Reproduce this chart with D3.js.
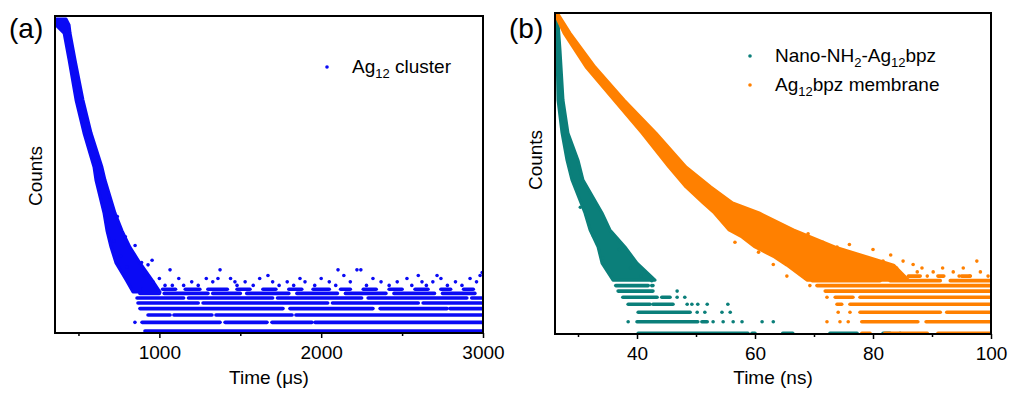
<!DOCTYPE html>
<html>
<head>
<meta charset="utf-8">
<script src="https://d3js.org/d3.v7.min.js"></script>
<style>
  body { margin: 0; background: #fff; }
  text { font-family: "Liberation Sans", Arial, sans-serif; fill: #000; }
</style>
</head>
<body>
<div id="chart"></div>
<script>
// ---------- Panel (a): Ag12 cluster, time in microseconds ----------
// dense part of the decay, read as horizontal slices: count level, first and last time
var clusterBandCounts = [3440, 3030, 2560, 1455, 630, 316, 155, 118, 59, 41, 29, 20.8, 14.6, 11.3];
var clusterBandLeft   = [361, 361, 411, 442, 485, 534, 596, 608, 658, 676, 701, 732, 794, 837];
var clusterBandRight  = [423, 442, 448, 479, 528, 578, 645, 664, 726, 769, 818, 880, 954, 1004];

// background floor: [count, from time, to time]
var clusterRows = [
  [5, 911, 3000],
  [6, 849, 849], [6, 893, 1375], [6, 1406, 1665], [6, 1696, 1943], [6, 1962, 3000],
  [7, 930, 1066], [7, 1090, 1325], [7, 1350, 1820], [7, 1844, 3000],
  [8, 880, 1764], [8, 1807, 2320], [8, 2364, 2778], [8, 2796, 3000],
  [9, 868, 1240], [9, 1270, 2040], [9, 2070, 2600], [9, 2630, 3000],
  [10, 862, 1150], [10, 1180, 1700], [10, 1730, 2250], [10, 2290, 2900], [10, 2930, 3000],
  [11, 880, 1000], [11, 1030, 1300], [11, 1330, 1500], [11, 1540, 1800], [11, 1850, 2100],
  [11, 2150, 2400], [11, 2450, 2700], [11, 2750, 2950],
  [12, 900, 960], [12, 1020, 1100], [12, 1160, 1250], [12, 1300, 1420], [12, 1480, 1560],
  [12, 1640, 1720], [12, 1800, 1880], [12, 1950, 2050], [12, 2120, 2180], [12, 2260, 2340],
  [12, 2420, 2500], [12, 2580, 2660], [12, 2740, 2800], [12, 2880, 2940]
];

// scattered points above the floor and around the decay: [time, count]
var clusterDots = [
  [955, 22], [930, 20], [905, 16], [960, 14], [1000, 15], [1035, 13], [1066, 18], [1080, 13],
  [1120, 15], [1150, 13], [1200, 14], [1240, 13], [1290, 15], [1330, 14], [1362, 15], [1375, 18],
  [1440, 15], [1467, 14], [1480, 13], [1530, 14], [1580, 13], [1620, 15], [1671, 16], [1700, 14],
  [1740, 13], [1790, 14], [1830, 13], [1869, 15], [1900, 14], [1960, 13], [2000, 15], [2050, 14],
  [2090, 13], [2104, 18], [2140, 16], [2180, 14], [2221, 18], [2245, 18], [2280, 13], [2320, 15],
  [2370, 14], [2420, 13], [2470, 14], [2530, 15], [2560, 13], [2600, 16], [2623, 14], [2650, 13],
  [2690, 14], [2716, 16], [2740, 15], [2780, 13], [2830, 14], [2870, 13], [2920, 15], [2960, 14],
  [2982, 16], [2995, 17],
  [740, 55], [790, 36], [830, 26], [760, 24], [800, 19], [850, 30], [890, 21], [720, 33]
];

var aMajorTicks = [1000, 2000, 3000];
var aMinorTicks = [500, 1500, 2500];

// ---------- Panel (b): time in nanoseconds ----------
var nanoBandCounts = [1869, 919, 352, 187, 111, 75.8, 40.3, 29.1, 21, 15.4, 11.1];
var nanoBandLeft   = [26.1, 26.44, 26.61, 27.29, 28.13, 28.98, 31.18, 32.03, 33.39, 34.07, 35.93];
var nanoBandRight  = [26.5, 26.95, 27.46, 28.3, 30.0, 30.85, 34.07, 35.42, 37.96, 40.0, 43.05];

var nanoRows = [
  [4, 40.2, 58.8], [4, 59.5, 60.0], [4, 64.7, 66.4], [4, 72.7, 77.3], [4, 81.7, 82.9], [4, 84.6, 84.6],
  [5, 38.5, 38.5], [5, 40.0, 50.3], [5, 51.0, 51.9], [5, 52.9, 52.9], [5, 54.6, 54.6], [5, 56.3, 56.3],
  [5, 57.8, 57.8], [5, 61.2, 61.2], [5, 63.1, 63.1],
  [6, 40.2, 49.0], [6, 50.2, 50.2], [6, 51.5, 51.5], [6, 54.4, 54.4], [6, 55.8, 55.8],
  [7, 38.5, 42.2], [7, 42.7, 46.1], [7, 48.5, 48.5], [7, 49.3, 49.3], [7, 50.3, 50.3], [7, 51.9, 51.9],
  [7, 55.4, 55.4],
  [8, 37.6, 43.4], [8, 44.2, 45.6], [8, 46.8, 46.8], [8, 48.1, 48.1],
  [9, 36.8, 42.7], [9, 46.8, 46.8],
  [10, 36.4, 41.9], [10, 42.5, 42.5]
];
var nanoDots = [[34.2, 17], [42.5, 11], [42.7, 10], [37.0, 20], [38.9, 14], [40.7, 12], [32.6, 26], [30.4, 45]];

var membraneBandCounts = [1833, 1272, 663, 352, 187, 97.3, 66.3, 48.8, 40.3, 29.1, 25.4, 21, 17.3, 14.8, 11.1];
var membraneBandLeft   = [26.1, 27.63, 31.36, 36.1, 40.85, 45.42, 48.3, 51.2, 53.1, 55.6, 57.8, 60.0, 63.3, 65.4, 68.8];
var membraneBandRight  = [26.61, 28.64, 32.88, 37.8, 43.2, 48.3, 52.5, 56.2, 60.7, 66.5, 69.5, 73.5, 79.0, 83.5, 86.0];

var membraneRows = [
  [4, 78.1, 79.5], [4, 82.0, 89.2], [4, 91.0, 99.8],
  [5, 72.2, 72.2], [5, 74.4, 74.4], [5, 75.8, 75.8], [5, 78.1, 87.6], [5, 89.0, 99.8],
  [6, 74.1, 74.1], [6, 76.1, 76.1], [6, 77.8, 91.4], [6, 92.5, 99.8],
  [7, 73.9, 74.7], [7, 76.1, 99.8],
  [8, 72.2, 72.2], [8, 73.6, 76.6], [8, 77.8, 99.8],
  [9, 71.9, 99.8],
  [10, 70.5, 99.8],
  [11, 69.7, 81.2], [11, 82.9, 91.4], [11, 93.1, 99.8],
  [12, 70.0, 73.0], [12, 75.0, 79.5], [12, 82.0, 84.0], [12, 86.0, 88.0], [12, 91.0, 92.0], [12, 95.0, 96.5]
];
var membraneDots = [
  [69.0, 27], [71.5, 23], [66.6, 19], [73.9, 21], [76.0, 22], [77.5, 18], [80.0, 20], [81.7, 16],
  [83.0, 18], [84.0, 14], [85.1, 16], [86.8, 15], [87.5, 13], [88.3, 14], [89.2, 12], [90.2, 13],
  [91.8, 14], [93.6, 13], [94.6, 12], [95.3, 14], [96.4, 12], [97.6, 16], [98.2, 13], [99.5, 12],
  [63.1, 15], [65.4, 12], [69.3, 10], [58.6, 42], [62.0, 34], [56.6, 23], [60.6, 19], [66.0, 28]
];

var bMajorTicks = [40, 60, 80, 100];
var bMinorTicks = [30, 50, 70, 90];

var svgWidth = 1010;
var svgHeight = 396;

var svg = d3.select("#chart")
  .append("svg")
  .attr("width", svgWidth)
  .attr("height", svgHeight);

function toSlices(counts, left, right) {
  return counts.map(function(c, i) { return { c: c, l: left[i], r: right[i] }; });
}

function drawPanel(p) {
  var x = d3.scaleLinear().domain(p.xDomain).range([p.left, p.right]);
  var y = d3.scaleLog().domain(p.yDomain).range([p.bottom, p.top]);

  var g = svg.append("g");

  g.append("clipPath")
    .attr("id", p.id + "-clip")
    .append("rect")
    .attr("x", p.left)
    .attr("y", p.top)
    .attr("width", p.right - p.left)
    .attr("height", p.bottom - p.top);

  var marks = g.append("g").attr("clip-path", "url(#" + p.id + "-clip)");

  p.series.forEach(function(s) {
    // dense band of the decay
    var area = d3.area()
      .y(d => y(d.c))
      .x0(d => x(d.l))
      .x1(d => x(d.r));

    marks.append("path")
      .datum(toSlices(s.bandCounts, s.bandLeft, s.bandRight))
      .attr("d", area)
      .attr("fill", s.color)
      .attr("stroke", s.color)
      .attr("stroke-width", 3)
      .attr("stroke-linejoin", "round");

    // quantized count levels of the floor
    marks.selectAll(null)
      .data(s.rows)
      .enter()
      .append("line")
      .attr("x1", d => x(d[1]))
      .attr("x2", d => x(d[2]))
      .attr("y1", d => y(d[0]))
      .attr("y2", d => y(d[0]))
      .attr("stroke", s.color)
      .attr("stroke-width", 3.6)
      .attr("stroke-linecap", "round");

    // single scattered points
    marks.selectAll(null)
      .data(s.dots)
      .enter()
      .append("circle")
      .attr("cx", d => x(d[0]))
      .attr("cy", d => y(d[1]))
      .attr("r", 1.8)
      .attr("fill", s.color);
  });

  // bottom axis: major ticks with labels, minor ticks without
  var xAxis = g.append("g")
    .attr("transform", `translate(0, ${p.bottom})`)
    .call(d3.axisBottom(x).tickValues(p.major).tickSize(5).tickSizeOuter(0).tickFormat(d3.format("d")));
  xAxis.select(".domain").remove();
  xAxis.selectAll("line").attr("stroke-width", 1.5);
  xAxis.selectAll("text")
    .attr("y", 13)
    .attr("font-size", "19px")
    .attr("font-family", "Liberation Sans, Arial, sans-serif");

  var xMinor = g.append("g")
    .attr("transform", `translate(0, ${p.bottom})`)
    .call(d3.axisBottom(x).tickValues(p.minor).tickSize(3).tickSizeOuter(0).tickFormat(""));
  xMinor.select(".domain").remove();
  xMinor.selectAll("line").attr("stroke-width", 1.5);

  // frame
  g.append("rect")
    .attr("x", p.left)
    .attr("y", p.top)
    .attr("width", p.right - p.left)
    .attr("height", p.bottom - p.top)
    .attr("fill", "none")
    .attr("stroke", "#000")
    .attr("stroke-width", 2);

  // axis titles
  g.append("text")
    .attr("x", (p.left + p.right) / 2)
    .attr("y", 384)
    .attr("text-anchor", "middle")
    .attr("font-size", "19px")
    .text(p.xTitle);

  g.append("text")
    .attr("transform", `translate(${p.left - 13}, ${p.countsY}) rotate(-90)`)
    .attr("text-anchor", "middle")
    .attr("font-size", "19px")
    .text("Counts");

  // panel letter
  g.append("text")
    .attr("x", p.left - 46)
    .attr("y", 38)
    .attr("font-size", "28px")
    .text(p.letter);

  // legend, subscripts are lowered tspans
  p.legend.forEach(function(item, i) {
    var ly = p.legendY + i * 29;
    g.append("circle")
      .attr("cx", p.legendX)
      .attr("cy", ly - 6)
      .attr("r", 1.8)
      .attr("fill", item.color);
    var t = g.append("text")
      .attr("x", p.legendX + 25)
      .attr("y", ly)
      .attr("font-size", "19px");
    var shift = 0;
    item.parts.forEach(function(part) {
      if (part.sub) {
        t.append("tspan").attr("dy", 5 - shift).attr("font-size", "13px").text(part.sub);
        shift = 5;
      } else {
        t.append("tspan").attr("dy", -shift).text(part.text);
        shift = 0;
      }
    });
  });
}

drawPanel({
  id: "pa",
  letter: "(a)",
  left: 55, right: 483, top: 16, bottom: 333,
  xDomain: [355, 3000],
  yDomain: [4.8, 3660],
  major: aMajorTicks,
  minor: aMinorTicks,
  xTitle: "Time (\u03bcs)",
  countsY: 176,
  legendX: 327, legendY: 73,
  legend: [
    { color: "#0a0af5", parts: [{ text: "Ag" }, { sub: "12" }, { text: " cluster" }] }
  ],
  series: [
    { color: "#0a0af5", bandCounts: clusterBandCounts, bandLeft: clusterBandLeft, bandRight: clusterBandRight,
      rows: clusterRows, dots: clusterDots }
  ]
});

drawPanel({
  id: "pb",
  letter: "(b)",
  left: 555, right: 991, top: 13, bottom: 334,
  xDomain: [26.1, 100],
  yDomain: [3.95, 1870],
  major: bMajorTicks,
  minor: bMinorTicks,
  xTitle: "Time (ns)",
  countsY: 160,
  legendX: 750, legendY: 62,
  legend: [
    { color: "#0b7f7a", parts: [{ text: "Nano-NH" }, { sub: "2" }, { text: "-Ag" }, { sub: "12" }, { text: "bpz" }] },
    { color: "#ff8000", parts: [{ text: "Ag" }, { sub: "12" }, { text: "bpz membrane" }] }
  ],
  series: [
    { color: "#0b7f7a", bandCounts: nanoBandCounts, bandLeft: nanoBandLeft, bandRight: nanoBandRight,
      rows: nanoRows, dots: nanoDots },
    { color: "#ff8000", bandCounts: membraneBandCounts, bandLeft: membraneBandLeft, bandRight: membraneBandRight,
      rows: membraneRows, dots: membraneDots }
  ]
});
</script>
</body>
</html>
